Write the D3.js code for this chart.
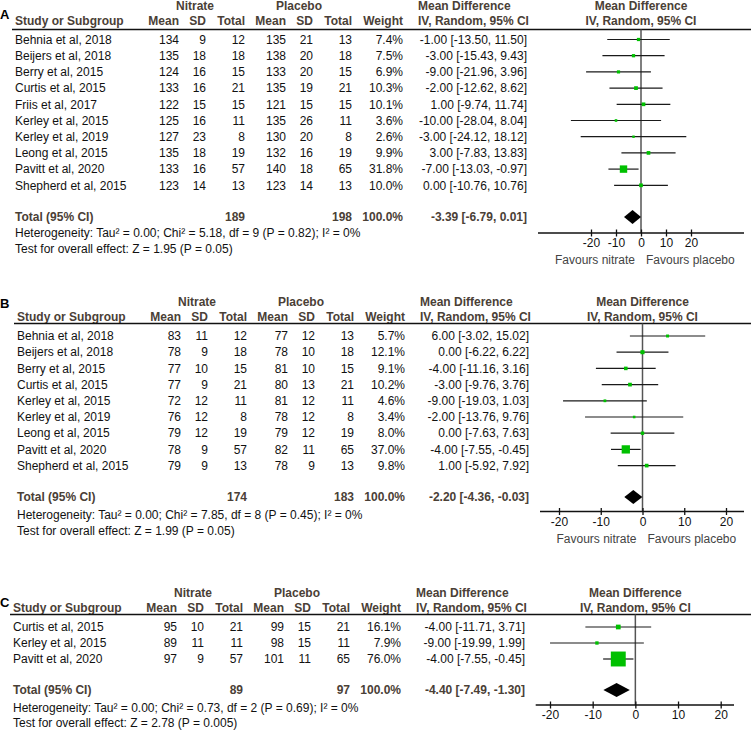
<!DOCTYPE html>
<html>
<head>
<meta charset="utf-8">
<script src="https://cdnjs.cloudflare.com/ajax/libs/d3/7.8.5/d3.min.js"></script>
<style>
  body { margin: 0; background: #fff; }
  svg { display: block; font-family: "Liberation Sans", Arial, sans-serif; }
</style>
</head>
<body>
<svg width="751" height="738"></svg>
<script>
// ---- panel A : systolic
var studiesA = ["Behnia et al, 2018", "Beijers et al, 2018", "Berry et al, 2015", "Curtis et al, 2015",
  "Friis et al, 2017", "Kerley et al, 2015", "Kerley et al, 2019", "Leong et al, 2015",
  "Pavitt et al, 2020", "Shepherd et al, 2015"];
var nitMeanA = [134, 135, 124, 133, 122, 125, 127, 135, 133, 123];
var nitSdA = [9, 18, 16, 16, 15, 16, 23, 18, 16, 14];
var nitNA = [12, 18, 15, 21, 15, 11, 8, 19, 57, 13];
var plaMeanA = [135, 138, 133, 135, 121, 135, 130, 132, 140, 123];
var plaSdA = [21, 20, 20, 19, 15, 26, 20, 16, 18, 14];
var plaNA = [13, 18, 15, 21, 15, 11, 8, 19, 65, 13];
var weightA = [7.4, 7.5, 6.9, 10.3, 10.1, 3.6, 2.6, 9.9, 31.8, 10.0];
var mdA = [-1.00, -3.00, -9.00, -2.00, 1.00, -10.00, -3.00, 3.00, -7.00, 0.00];
var loA = [-13.50, -15.43, -21.96, -12.62, -9.74, -28.04, -24.12, -7.83, -13.03, -10.76];
var hiA = [11.50, 9.43, 3.96, 8.62, 11.74, 8.04, 18.12, 13.83, -0.97, 10.76];
var totalA = {nit: 189, pla: 198, md: -3.39, lo: -6.79, hi: 0.01};
var hetA = "Heterogeneity: Tau\u00b2 = 0.00; Chi\u00b2 = 5.18, df = 9 (P = 0.82); I\u00b2 = 0%";
var testA = "Test for overall effect: Z = 1.95 (P = 0.05)";

// ---- panel B : diastolic
var studiesB = ["Behnia et al, 2018", "Beijers et al, 2018", "Berry et al, 2015", "Curtis et al, 2015",
  "Kerley et al, 2015", "Kerley et al, 2019", "Leong et al, 2015", "Pavitt et al, 2020", "Shepherd et al, 2015"];
var nitMeanB = [83, 78, 77, 77, 72, 76, 79, 78, 79];
var nitSdB = [11, 9, 10, 9, 12, 12, 12, 9, 9];
var nitNB = [12, 18, 15, 21, 11, 8, 19, 57, 13];
var plaMeanB = [77, 78, 81, 80, 81, 78, 79, 82, 78];
var plaSdB = [12, 10, 10, 13, 12, 12, 12, 11, 9];
var plaNB = [13, 18, 15, 21, 11, 8, 19, 65, 13];
var weightB = [5.7, 12.1, 9.1, 10.2, 4.6, 3.4, 8.0, 37.0, 9.8];
var mdB = [6.00, 0.00, -4.00, -3.00, -9.00, -2.00, 0.00, -4.00, 1.00];
var loB = [-3.02, -6.22, -11.16, -9.76, -19.03, -13.76, -7.63, -7.55, -5.92];
var hiB = [15.02, 6.22, 3.16, 3.76, 1.03, 9.76, 7.63, -0.45, 7.92];
var totalB = {nit: 174, pla: 183, md: -2.20, lo: -4.36, hi: -0.03};
var hetB = "Heterogeneity: Tau\u00b2 = 0.00; Chi\u00b2 = 7.85, df = 8 (P = 0.45); I\u00b2 = 0%";
var testB = "Test for overall effect: Z = 1.99 (P = 0.05)";

// ---- panel C
var studiesC = ["Curtis et al, 2015", "Kerley et al, 2015", "Pavitt et al, 2020"];
var nitMeanC = [95, 89, 97];
var nitSdC = [10, 11, 9];
var nitNC = [21, 11, 57];
var plaMeanC = [99, 98, 101];
var plaSdC = [15, 15, 11];
var plaNC = [21, 11, 65];
var weightC = [16.1, 7.9, 76.0];
var mdC = [-4.00, -9.00, -4.00];
var loC = [-11.71, -19.99, -7.55];
var hiC = [3.71, 1.99, -0.45];
var totalC = {nit: 89, pla: 97, md: -4.40, lo: -7.49, hi: -1.30};
var hetC = "Heterogeneity: Tau\u00b2 = 0.00; Chi\u00b2 = 0.73, df = 2 (P = 0.69); I\u00b2 = 0%";
var testC = "Test for overall effect: Z = 2.78 (P = 0.005)";

var tickVals = [-20, -10, 0, 10, 20];

var svg = d3.select("svg");
var headCol = "#4a4036";
// plain hyphen minus, like the source figure
var f2 = function(v) { return v.toFixed(2); };
var pct = function(d) { return d.toFixed(1) + "%"; };
var ciText = function(m, l, h) { return f2(m) + " [" + f2(l) + ", " + f2(h) + "]"; };
var boxSize = d3.scaleLinear().domain([0, 100]).range([2, 19]);

function drawPanel(p) {
  var g = svg.append("g").attr("transform", "translate(" + p.dx + ",0)");
  var rows = p.studies.map(function(s, i) {
    return {name: s, nm: p.nitMean[i], ns: p.nitSd[i], nn: p.nitN[i],
      pm: p.plaMean[i], ps: p.plaSd[i], pn: p.plaN[i], w: p.weight[i],
      md: p.md[i], lo: p.lo[i], hi: p.hi[i]};
  });
  var y = function(i) { return p.row0 + i * p.step; };
  var topY = p.headY - 15;

  var cols = [
    {x: 179, f: function(d) { return d.nm; }},
    {x: 206, f: function(d) { return d.ns; }},
    {x: 245, f: function(d) { return d.nn; }},
    {x: 286, f: function(d) { return d.pm; }},
    {x: 313, f: function(d) { return d.ps; }},
    {x: 352, f: function(d) { return d.pn; }},
    {x: 403, f: function(d) { return pct(d.w); }},
    {x: 527, f: function(d) { return ciText(d.md, d.lo, d.hi); }}
  ];

  // panel letter
  svg.append("text").attr("x", 0).attr("y", p.labelY).attr("dy", "0.35em")
    .attr("font-size", 13).attr("font-weight", "bold").text(p.label);

  // headers
  var hd = g.append("g").attr("font-size", 12).attr("font-weight", "bold").attr("fill", headCol);
  hd.append("text").attr("x", 195).attr("y", topY).attr("dy", "0.35em").attr("text-anchor", "middle").text("Nitrate");
  hd.append("text").attr("x", 299).attr("y", topY).attr("dy", "0.35em").attr("text-anchor", "middle").text("Placebo");
  hd.append("text").attr("x", 418).attr("y", topY).attr("dy", "0.35em").text("Mean Difference");
  hd.append("text").attr("x", 418).attr("y", p.headY).attr("dy", "0.35em").text("IV, Random, 95% CI");
  hd.append("text").attr("x", 15).attr("y", p.headY).attr("dy", "0.35em").text("Study or Subgroup");
  ["Mean", "SD", "Total", "Mean", "SD", "Total", "Weight"].forEach(function(t, i) {
    hd.append("text").attr("x", cols[i].x).attr("y", p.headY).attr("dy", "0.35em")
      .attr("text-anchor", "end").text(t);
  });

  g.append("line").attr("x1", 12).attr("x2", 751 - p.dx).attr("y1", p.lineY).attr("y2", p.lineY)
    .attr("stroke", "#111").attr("stroke-width", 1.5);

  // study rows
  var rg = g.selectAll(".row").data(rows).enter().append("g").attr("class", "row")
    .attr("transform", function(d, i) { return "translate(0," + y(i) + ")"; })
    .attr("font-size", 12).attr("fill", "#111");
  rg.append("text").attr("x", 15).attr("dy", "0.35em").text(function(d) { return d.name; });
  cols.forEach(function(c) {
    rg.append("text").attr("x", c.x).attr("dy", "0.35em").attr("text-anchor", "end").text(c.f);
  });

  // total row
  var tg = g.append("g").attr("font-size", 12).attr("font-weight", "bold").attr("fill", headCol);
  tg.append("text").attr("x", 15).attr("y", p.totalY).attr("dy", "0.35em").text("Total (95% CI)");
  [[245, p.total.nit], [352, p.total.pla], [403, "100.0%"],
   [527, ciText(p.total.md, p.total.lo, p.total.hi)]].forEach(function(t) {
    tg.append("text").attr("x", t[0]).attr("y", p.totalY).attr("dy", "0.35em")
      .attr("text-anchor", "end").text(t[1]);
  });

  g.append("text").attr("x", 15).attr("y", p.hetY).attr("dy", "0.35em").attr("font-size", 12)
    .attr("fill", "#111").text(p.het);
  g.append("text").attr("x", 15).attr("y", p.testY).attr("dy", "0.35em").attr("font-size", 12)
    .attr("fill", "#111").text(p.test);

  // forest plot
  var x = d3.scaleLinear().domain([-20, 20]).range(p.xr);
  var fg = svg.append("g");
  fg.append("text").attr("x", x(0)).attr("y", topY).attr("dy", "0.35em").attr("text-anchor", "middle")
    .attr("font-size", 12).attr("font-weight", "bold").attr("fill", headCol).text("Mean Difference");
  fg.append("text").attr("x", x(0)).attr("y", p.headY).attr("dy", "0.35em").attr("text-anchor", "middle")
    .attr("font-size", 12).attr("font-weight", "bold").attr("fill", headCol).text("IV, Random, 95% CI");

  fg.append("line").attr("x1", x(0)).attr("x2", x(0)).attr("y1", p.lineY).attr("y2", p.axisY)
    .attr("stroke", "#555").attr("stroke-width", 1.5);

  var mk = fg.selectAll(".mk").data(rows).enter().append("g")
    .attr("transform", function(d, i) { return "translate(0," + y(i) + ")"; });
  mk.append("line").attr("x1", function(d) { return x(d.lo); }).attr("x2", function(d) { return x(d.hi); })
    .attr("stroke", "#1a1a1a").attr("stroke-width", 1.2);
  mk.append("rect")
    .attr("x", function(d) { return x(d.md) - boxSize(d.w) / 2; })
    .attr("y", function(d) { return -boxSize(d.w) / 2; })
    .attr("width", function(d) { return boxSize(d.w); })
    .attr("height", function(d) { return boxSize(d.w); })
    .attr("fill", "#00c000");

  var t = p.total;
  fg.append("path")
    .attr("d", "M" + x(t.lo) + "," + p.totalY + "L" + x(t.md) + "," + (p.totalY - 7) +
      "L" + x(t.hi) + "," + p.totalY + "L" + x(t.md) + "," + (p.totalY + 7) + "Z")
    .attr("fill", "#000");

  var ax = fg.append("g").attr("transform", "translate(0," + p.axisY + ")")
    .call(d3.axisBottom(x).tickValues(tickVals).tickSize(0).tickPadding(8)
      .tickFormat(function(d) { return String(d); }));
  ax.select(".domain").remove();
  ax.selectAll(".tick line").attr("y1", -3.5).attr("y2", 3.5).attr("stroke", "#111").attr("stroke-width", 1.3);
  ax.selectAll(".tick text").attr("font-size", 12).attr("font-family", "Liberation Sans, Arial, sans-serif")
    .attr("fill", "#111").attr("dy", "0.5em");
  ax.append("line").attr("x1", p.axisX[0]).attr("x2", p.axisX[1])
    .attr("stroke", "#111").attr("stroke-width", 1.5);

  if (p.favours) {
    fg.append("text").attr("x", x(0) - 6).attr("y", p.axisY + 27).attr("dy", "0.35em")
      .attr("text-anchor", "end").attr("font-size", 12).attr("fill", "#444").text("Favours nitrate");
    fg.append("text").attr("x", x(0) + 5).attr("y", p.axisY + 27).attr("dy", "0.35em")
      .attr("font-size", 12).attr("fill", "#444").text("Favours placebo");
  }
}

drawPanel({label: "A", labelY: 14, dx: 0, headY: 21, lineY: 29.5, row0: 39.5, step: 16.2,
  totalY: 217, hetY: 233, testY: 249, axisY: 233, xr: [591, 691], axisX: [538, 744], favours: true,
  studies: studiesA, nitMean: nitMeanA, nitSd: nitSdA, nitN: nitNA, plaMean: plaMeanA, plaSd: plaSdA,
  plaN: plaNA, weight: weightA, md: mdA, lo: loA, hi: hiA, total: totalA, het: hetA, test: testA});

drawPanel({label: "B", labelY: 303, dx: 2, headY: 317, lineY: 323.5, row0: 336, step: 16.2,
  totalY: 497, hetY: 515, testY: 531, axisY: 511.5, xr: [559, 726], axisX: [540, 744], favours: true,
  studies: studiesB, nitMean: nitMeanB, nitSd: nitSdB, nitN: nitNB, plaMean: plaMeanB, plaSd: plaSdB,
  plaN: plaNB, weight: weightB, md: mdB, lo: loB, hi: hiB, total: totalB, het: hetB, test: testB});

drawPanel({label: "C", labelY: 602, dx: -2, headY: 608, lineY: 614.5, row0: 627, step: 16,
  totalY: 690, hetY: 708, testY: 723, axisY: 705, xr: [550, 720.7], axisX: [535.7, 734], favours: false,
  studies: studiesC, nitMean: nitMeanC, nitSd: nitSdC, nitN: nitNC, plaMean: plaMeanC, plaSd: plaSdC,
  plaN: plaNC, weight: weightC, md: mdC, lo: loC, hi: hiC, total: totalC, het: hetC, test: testC});
</script>
</body>
</html>
